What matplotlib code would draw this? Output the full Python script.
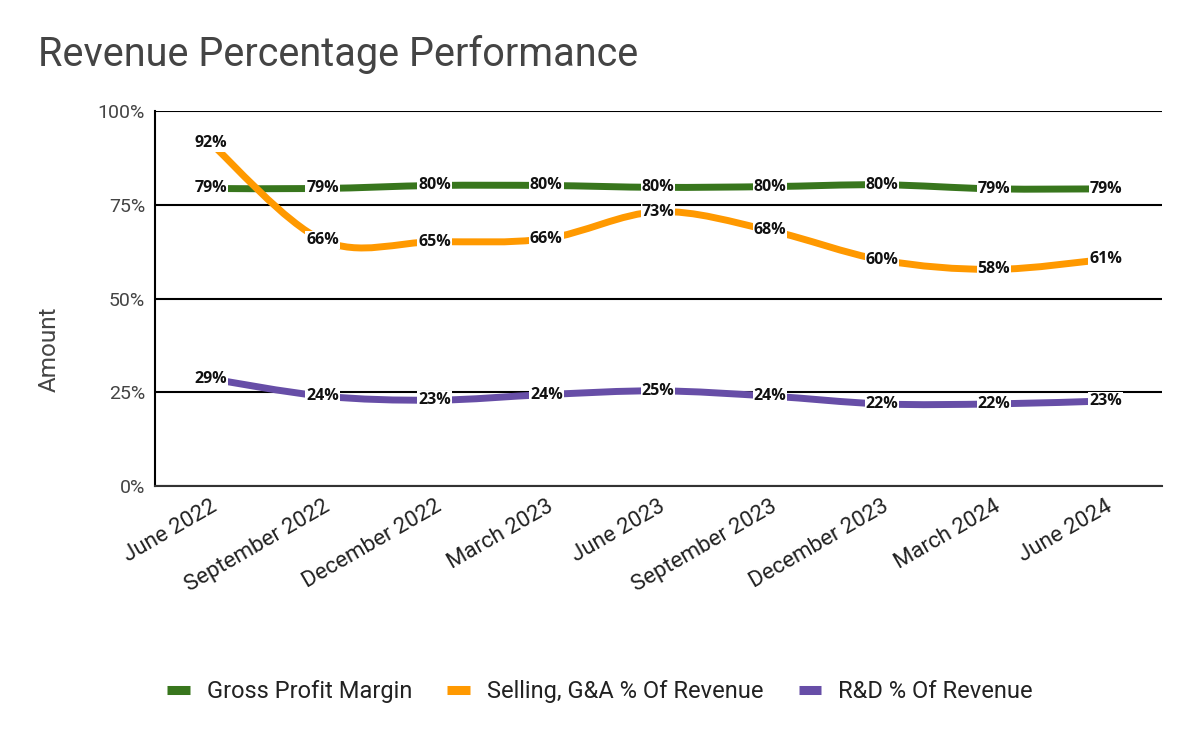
import numpy as np
import matplotlib.pyplot as plt
from matplotlib.path import Path
from matplotlib.patches import PathPatch
from matplotlib.lines import Line2D

quarters = ['June 2022', 'September 2022', 'December 2022', 'March 2023', 'June 2023',
            'September 2023', 'December 2023', 'March 2024', 'June 2024']
gross_margin = [79.4, 79.4, 80.2, 80.2, 79.7, 79.9, 80.4, 79.3, 79.3]
sga_pct = [91.5, 65.6, 65.2, 66.0, 73.2, 68.2, 60.3, 57.8, 60.5]
rnd_pct = [28.6, 24.0, 22.9, 24.4, 25.4, 24.0, 21.9, 21.9, 22.7]
labels_gross = ['79%', '79%', '80%', '80%', '80%', '80%', '80%', '79%', '79%']
labels_sga = ['92%', '66%', '65%', '66%', '73%', '68%', '60%', '58%', '61%']
labels_rnd = ['29%', '24%', '23%', '24%', '25%', '24%', '22%', '22%', '23%']

series = [
    ('Gross Profit Margin', gross_margin, labels_gross, '#38761d'),
    ('Selling, G&A % Of Revenue', sga_pct, labels_sga, '#ff9900'),
    ('R&D % Of Revenue', rnd_pct, labels_rnd, '#674ea7'),
]


def smooth_path(x, y, t=0.5):
    # catmull-rom -> cubic bezier segments
    x = np.asarray(x, float)
    y = np.asarray(y, float)
    pts = np.column_stack([x, y])
    verts = [pts[0]]
    codes = [Path.MOVETO]
    n = len(pts)
    for i in range(n - 1):
        p0 = pts[max(i - 1, 0)]
        p1 = pts[i]
        p2 = pts[i + 1]
        p3 = pts[min(i + 2, n - 1)]
        c1 = p1 + (p2 - p0) * t / 3.0
        c2 = p2 - (p3 - p1) * t / 3.0
        verts += [c1, c2, p2]
        codes += [Path.CURVE4] * 3
    return Path(verts, codes)


plt.rcParams['font.family'] = ['Roboto', 'DejaVu Sans']

fig = plt.figure(figsize=(12, 7.42), dpi=100)
ax = fig.add_axes([0.129, 0.345, 0.839, 0.505])

xs = np.arange(len(quarters))
for name, vals, labs, col in series:
    ax.add_patch(PathPatch(smooth_path(xs, vals, 0.5), fill=False, edgecolor=col,
                           lw=5, capstyle='butt', zorder=3))
    for xi, v, lab in zip(xs, vals, labs):
        ax.text(xi, v, lab, ha='center', va='center', fontsize=11.5,
                fontweight='bold', family=['Open Sans', 'DejaVu Sans'], color='#111111',
                bbox=dict(boxstyle='square,pad=0.05', fc='white', ec='none'), zorder=4)

ax.set_xlim(-0.5, len(quarters) - 0.5)
ax.set_ylim(0, 100)
ax.set_yticks([0, 25, 50, 75, 100])
ax.set_yticklabels(['0%', '25%', '50%', '75%', '100%'], fontsize=14, color='#444444')
ax.set_xticks(xs)
ax.set_xticklabels(quarters, rotation=30, ha='right', rotation_mode='anchor',
                   fontsize=16, color='#222222')
ax.tick_params(length=0, pad=7)
ax.grid(axis='y', color='black', lw=1.5, zorder=1)
for s in ['top', 'right']:
    ax.spines[s].set_visible(False)
ax.spines['left'].set_linewidth(1.5)
ax.spines['bottom'].set_linewidth(1.5)
ax.spines['bottom'].set_color('#333333')
ax.set_ylabel('Amount', fontsize=17.5, color='#444444')
ax.yaxis.set_label_coords(-0.093, 0.365)

fig.text(0.032, 0.927, 'Revenue Percentage Performance', fontsize=28.5,
         color='#444444', va='center', ha='left')

handles = [Line2D([], [], color=c, lw=6.5, solid_capstyle='butt') for _, _, _, c in series]
fig.legend(handles, [s[0] for s in series], loc='center', bbox_to_anchor=(0.5, 0.068),
           ncol=3, frameon=False, fontsize=17, handlelength=0.95, handletextpad=0.72,
           columnspacing=1.5, labelcolor='#222222')

fig.savefig('out.png', dpi=100)
